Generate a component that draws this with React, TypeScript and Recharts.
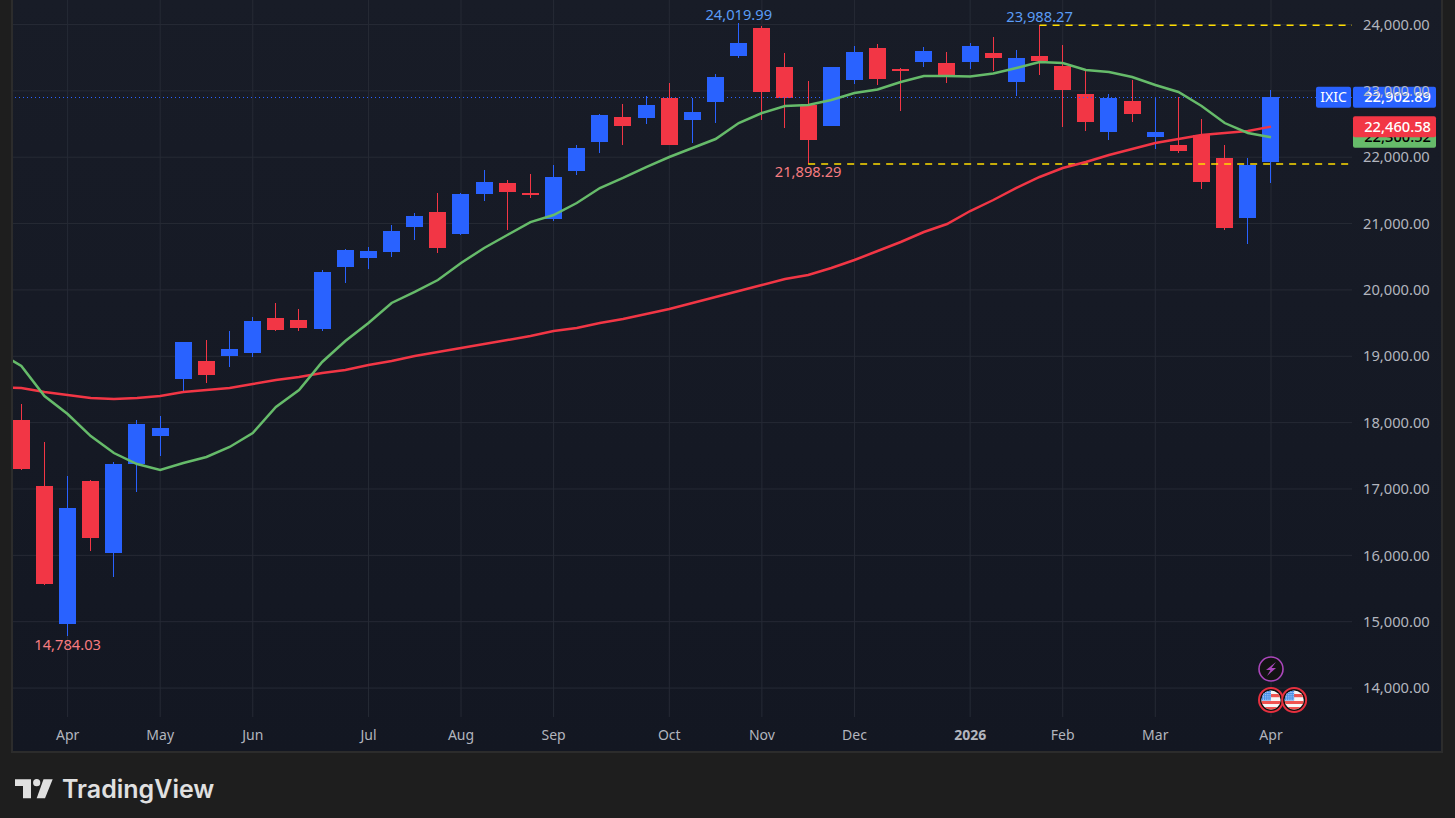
import React from "react";
import {
  ComposedChart,
  Bar,
  Line,
  XAxis,
  YAxis,
  CartesianGrid,
  ReferenceLine,
  ReferenceDot,
} from "recharts";

const opens = [18040,17045,14965,17120,16035,17376,17798,18657,18929,19004,19049,19577,19547,19411,20345,20481,20571,20948,21174,20843,21445,21611,21460,21069,21792,22229,22606,22591,22892,22561,22832,23525,23947,23359,22787,22470,23163,23646,23329,23435,23420,23435,23570,23133,23525,23374,22952,22380,22847,22304,22184,22335,21988,21084,21928];
const closes = [17306,15568,16713,16261,17376,17979,17919,19215,18718,19110,19532,19396,19426,20270,20602,20586,20888,21114,20632,21445,21626,21476,21445,21702,22139,22636,22470,22787,22184,22681,23209,23721,22983,22892,22259,23359,23585,23178,23299,23600,23224,23676,23495,23495,23450,23013,22530,22892,22651,22380,22093,21626,20933,21882,22902.89];
const highs = [18281,17708,17196,17135,17407,18040,18100,19215,19245,19381,19592,19803,19712,20300,20617,20647,20978,21159,21460,21460,21807,21656,21747,21882,22184,22651,22802,22922,23118,22892,23254,24019.99,23977,23570,23148,23359,23676,23706,23344,23661,23585,23721,23811,23616,23988.27,23691,23314,22952,23163,22892,22907,22576,22184,21988,23013];
const lows = [17286,15560,14784.03,16066,15674,16955,17497,18477,18597,18838,18989,19381,19381,19381,20104,20315,20496,20752,20556,20828,21340,20903,21385,21039,21732,22063,22184,22500,22184,22214,22515,23495,22561,22440,21898.29,22470,23103,23088,22696,23359,23118,23329,23299,22922,23239,22455,22395,22259,22530,22124,22063,21521,20903,20692,21611];
const ma20 = [19064,18853,18401,18130,17798,17542,17376,17286,17392,17482,17633,17844,18236,18492,18914,19230,19501,19803,19969,20149,20406,20632,20828,21023,21129,21310,21536,21687,21852,22003,22139,22274,22515,22666,22772,22787,22862,22967,23020,23133,23224,23224,23216,23261,23344,23435,23420,23314,23284,23209,23088,22983,22772,22515,22365,22300.52];
const ma50 = [18530,18522,18462,18416,18371,18356,18371,18401,18462,18492,18522,18582,18642,18688,18748,18793,18868,18929,19004,19064,19125,19185,19245,19305,19381,19426,19501,19562,19637,19712,19803,19893,19984,20074,20165,20225,20330,20451,20586,20722,20873,20993,21189,21355,21536,21702,21837,21928,22033,22124,22214,22274,22335,22365,22395,22460.58];

const monthTicks = [2, 6, 10, 15, 19, 23, 28, 32, 36, 41, 45, 49, 54];
const monthLabels = ["Apr","May","Jun","Jul","Aug","Sep","Oct","Nov","Dec","2026","Feb","Mar","Apr"];
const priceTicks = [14000,15000,16000,17000,18000,19000,20000,21000,22000,23000,24000];

const lastClose = 22902.89;
const ma50Last = 22460.58;
const ma20Last = 22300.52;
const periodHigh = 24019.99;
const periodLow = 14784.03;
const recentHigh = 23988.27;
const recentLow = 21898.29;

const BLUE = "#2962ff";
const RED = "#f23645";
const GREEN = "#66bb6a";
const TEXT = "#b2b5be";
const GRID = "#262a35";
const YELLOW = "#ffdd00";
const FONT = "'Noto Sans', sans-serif";
const AXIS_SIZE = 14.7;
const X_MIN = -0.36;
const X_MAX = 57.5;

const rows = [
  { i: -1, ma20: ma20[0], ma50: ma50[0] },
  ...opens.map((o, k) => ({
    i: k,
    open: o,
    close: closes[k],
    high: highs[k],
    low: lows[k],
    ma20: ma20[k + 1],
    ma50: ma50[k + 1],
  })),
];

const fmt = (v: number) =>
  v.toLocaleString("en-US", { minimumFractionDigits: 2, maximumFractionDigits: 2 });

function Candle(props: any) {
  const { x, y, width, height, payload } = props;
  if (!payload || payload.open == null) return null;
  const { open, close, high, low } = payload;
  const perUnit = height / (high - low);
  const top = Math.round(y + (high - Math.max(open, close)) * perUnit);
  const bodyH = Math.max(Math.round(Math.abs(open - close) * perUnit), 2);
  const color = close >= open ? BLUE : RED;
  const rx = Math.round(x);
  const cx = rx + width / 2;
  return (
    <g>
      <line
        x1={cx}
        x2={cx}
        y1={Math.round(y)}
        y2={Math.round(y + height)}
        stroke={color}
        strokeWidth={1}
      />
      <rect x={rx} y={top} width={width} height={bodyH} fill={color} />
    </g>
  );
}

function MonthTick(props: any) {
  const { x, y, payload } = props;
  const label = monthLabels[monthTicks.indexOf(payload.value)];
  return (
    <text
      x={x}
      y={y}
      dy={13}
      textAnchor="middle"
      fill={TEXT}
      fontSize={14}
      fontFamily={FONT}
      fontWeight={label === "2026" ? 700 : 400}
    >
      {label}
    </text>
  );
}

function PriceTag(props: any) {
  const { cx, cy, fill, textFill, value } = props;
  const top = cy - 10.5;
  return (
    <g>
      <rect x={cx + 1} y={top} width={83} height={21} rx={2} fill={fill} />
      <text
        x={cx + 79}
        y={top + 15.5}
        textAnchor="end"
        fill={textFill}
        fontSize={AXIS_SIZE}
        fontWeight={500}
        fontFamily={FONT}
      >
        {value}
      </text>
    </g>
  );
}

function SymbolTag(props: any) {
  const { cx, cy } = props;
  return (
    <g>
      <rect x={cx - 36} y={cy - 10.5} width={35} height={21} rx={2} fill={BLUE} />
      <text x={cx - 18.5} y={cy + 5} textAnchor="middle" fill="#fff" fontSize={14} fontFamily={FONT}>
        IXIC
      </text>
    </g>
  );
}

function BoltIcon(props: any) {
  const { cx, cy } = props;
  return (
    <g>
      <circle cx={cx} cy={cy} r={12} fill="#131313" stroke="#ab47bc" strokeWidth={1.6} />
      <path
        d={`M${cx + 5} ${cy - 7} L${cx - 5} ${cy + 1} L${cx - 0.5} ${cy + 1} L${cx - 4} ${cy + 7} L${cx + 5} ${cy - 1} L${cx + 0.5} ${cy - 1} Z`}
        fill="#ab47bc"
      />
    </g>
  );
}

function FlagIcon(props: any) {
  const { cx, cy, id } = props;
  const dots: React.ReactNode[] = [];
  for (let r = 0; r < 4; r++) {
    for (let c = 0; c < 4; c++) {
      dots.push(
        <rect key={`${r}-${c}`} x={cx - 8 + c * 2.2} y={cy - 8 + r * 2.2} width={1} height={1} fill="#cfe3ff" />
      );
    }
  }
  return (
    <g>
      <defs>
        <clipPath id={id}>
          <circle cx={cx} cy={cy} r={9.6} />
        </clipPath>
      </defs>
      <circle cx={cx} cy={cy} r={12} fill="#111" stroke="#e5303f" strokeWidth={2} />
      <g clipPath={`url(#${id})`}>
        <rect x={cx - 10} y={cy - 10} width={20} height={20} fill="#f7f7f7" />
        <rect x={cx - 10} y={cy - 6} width={20} height={3.2} fill="#ef5350" />
        <rect x={cx - 10} y={cy + 1} width={20} height={3} fill="#ef5350" />
        <rect x={cx - 10} y={cy + 7} width={20} height={3} fill="#ef5350" />
        <rect x={cx - 10} y={cy - 10} width={10} height={10.5} fill="#4a90e8" />
        {dots}
      </g>
    </g>
  );
}

export default function App() {
  return (
    <div
      style={{
        position: "absolute",
        left: 0,
        top: 0,
        width: 1455,
        height: 818,
        overflow: "hidden",
        background: "#1e1e1e",
      }}
    >
      <div
        style={{
          position: "absolute",
          left: 11,
          top: 0,
          width: 1428,
          height: 751,
          border: "2px solid #2c2c2c",
          borderTop: "none",
          background: "linear-gradient(180deg, #181c27 0%, #131722 100%)",
        }}
      />
      <div style={{ position: "absolute", left: 0, top: 0 }}>
        <ComposedChart
          width={1455}
          height={818}
          data={rows}
          margin={{ top: 0, right: 14, bottom: 67, left: 13 }}
          barSize={17}
        >
          <CartesianGrid
            stroke={GRID}
            strokeWidth={1}
            verticalValues={monthTicks}
            horizontalValues={priceTicks}
          />
          <XAxis
            type="number"
            dataKey="i"
            domain={[X_MIN, X_MAX]}
            allowDataOverflow
            ticks={monthTicks}
            interval={0}
            height={34}
            axisLine={false}
            tickLine={false}
            tickSize={0}
            tickMargin={10}
            tick={<MonthTick />}
          />
          <YAxis
            orientation="right"
            domain={[13564, 24369]}
            allowDataOverflow
            ticks={priceTicks}
            interval={0}
            width={89}
            axisLine={false}
            tickLine={false}
            tickSize={0}
            tickMargin={11}
            tickFormatter={fmt}
            tick={{ fill: TEXT, fontSize: AXIS_SIZE, fontFamily: FONT, textAnchor: "start" }}
          />
          <ReferenceLine y={lastClose} stroke={BLUE} strokeWidth={1} strokeDasharray="1 3" shapeRendering="crispEdges" />
          <ReferenceLine
            segment={[{ x: 44, y: recentHigh }, { x: X_MAX, y: recentHigh }]}
            stroke={YELLOW}
            strokeOpacity={1}
            strokeWidth={1.4}
            strokeDasharray="7 6"
          />
          <ReferenceLine
            segment={[{ x: 34, y: recentLow }, { x: X_MAX, y: recentLow }]}
            stroke={YELLOW}
            strokeOpacity={1}
            strokeWidth={1.4}
            strokeDasharray="7 6"
          />
          <Line dataKey="ma50" stroke={RED} strokeWidth={2.5} dot={false} type="linear" isAnimationActive={false} />
          <Line dataKey="ma20" stroke={GREEN} strokeWidth={2.5} dot={false} type="linear" isAnimationActive={false} />
          <Bar
            dataKey={(d: any) => (d.open == null ? null : [d.low, d.high])}
            shape={<Candle />}
            isAnimationActive={false}
          />
          <ReferenceDot
            x={31}
            y={periodHigh}
            r={0}
            ifOverflow="visible"
            label={{ value: fmt(periodHigh), position: "top", offset: 3, fill: "#5b9cf6", fontSize: AXIS_SIZE, fontFamily: FONT }}
          />
          <ReferenceDot
            x={44}
            y={recentHigh}
            r={0}
            ifOverflow="visible"
            label={{ value: fmt(recentHigh), position: "top", offset: 3, fill: "#5b9cf6", fontSize: AXIS_SIZE, fontFamily: FONT }}
          />
          <ReferenceDot
            x={34}
            y={recentLow}
            r={0}
            ifOverflow="visible"
            label={{ value: fmt(recentLow), position: "bottom", offset: 3, fill: "#f77c80", fontSize: AXIS_SIZE, fontFamily: FONT }}
          />
          <ReferenceDot
            x={2}
            y={periodLow}
            r={0}
            ifOverflow="visible"
            label={{ value: fmt(periodLow), position: "bottom", offset: 4, fill: "#f77c80", fontSize: AXIS_SIZE, fontFamily: FONT }}
          />
          <ReferenceDot x={X_MAX} y={ma20Last} ifOverflow="visible" shape={(p: any) => <PriceTag {...p} fill={GREEN} textFill="#000" value={fmt(ma20Last)} />} />
          <ReferenceDot x={X_MAX} y={ma50Last} ifOverflow="visible" shape={(p: any) => <PriceTag {...p} fill={RED} textFill="#fff" value={fmt(ma50Last)} />} />
          <ReferenceDot x={X_MAX} y={lastClose} ifOverflow="visible" shape={(p: any) => <PriceTag {...p} fill={BLUE} textFill="#fff" value={fmt(lastClose)} />} />
          <ReferenceDot x={X_MAX} y={lastClose} ifOverflow="visible" shape={(p: any) => <SymbolTag {...p} />} />
          <ReferenceDot x={54} y={14287} ifOverflow="visible" shape={(p: any) => <BoltIcon {...p} />} />
          <ReferenceDot x={54} y={13820} ifOverflow="visible" shape={(p: any) => <FlagIcon {...p} id="flagA" />} />
          <ReferenceDot x={55} y={13820} ifOverflow="visible" shape={(p: any) => <FlagIcon {...p} id="flagB" />} />
        </ComposedChart>
      </div>
      <svg style={{ position: "absolute", left: 0, top: 770 }} width={240} height={40}>
        <path d="M15 9.3 H31 V28.3 H23 V16 H15 Z" fill="#e0e0e0" />
        <circle cx={36.7} cy={12.7} r={3.6} fill="#e0e0e0" />
        <path d="M43.5 9.3 H52.7 L45 28.3 H36.7 Z" fill="#e0e0e0" />
        <text x={62} y={28} fill="#e0e0e0" fontSize={25} fontWeight={600} fontFamily="Inter, sans-serif">
          TradingView
        </text>
      </svg>
    </div>
  );
}
